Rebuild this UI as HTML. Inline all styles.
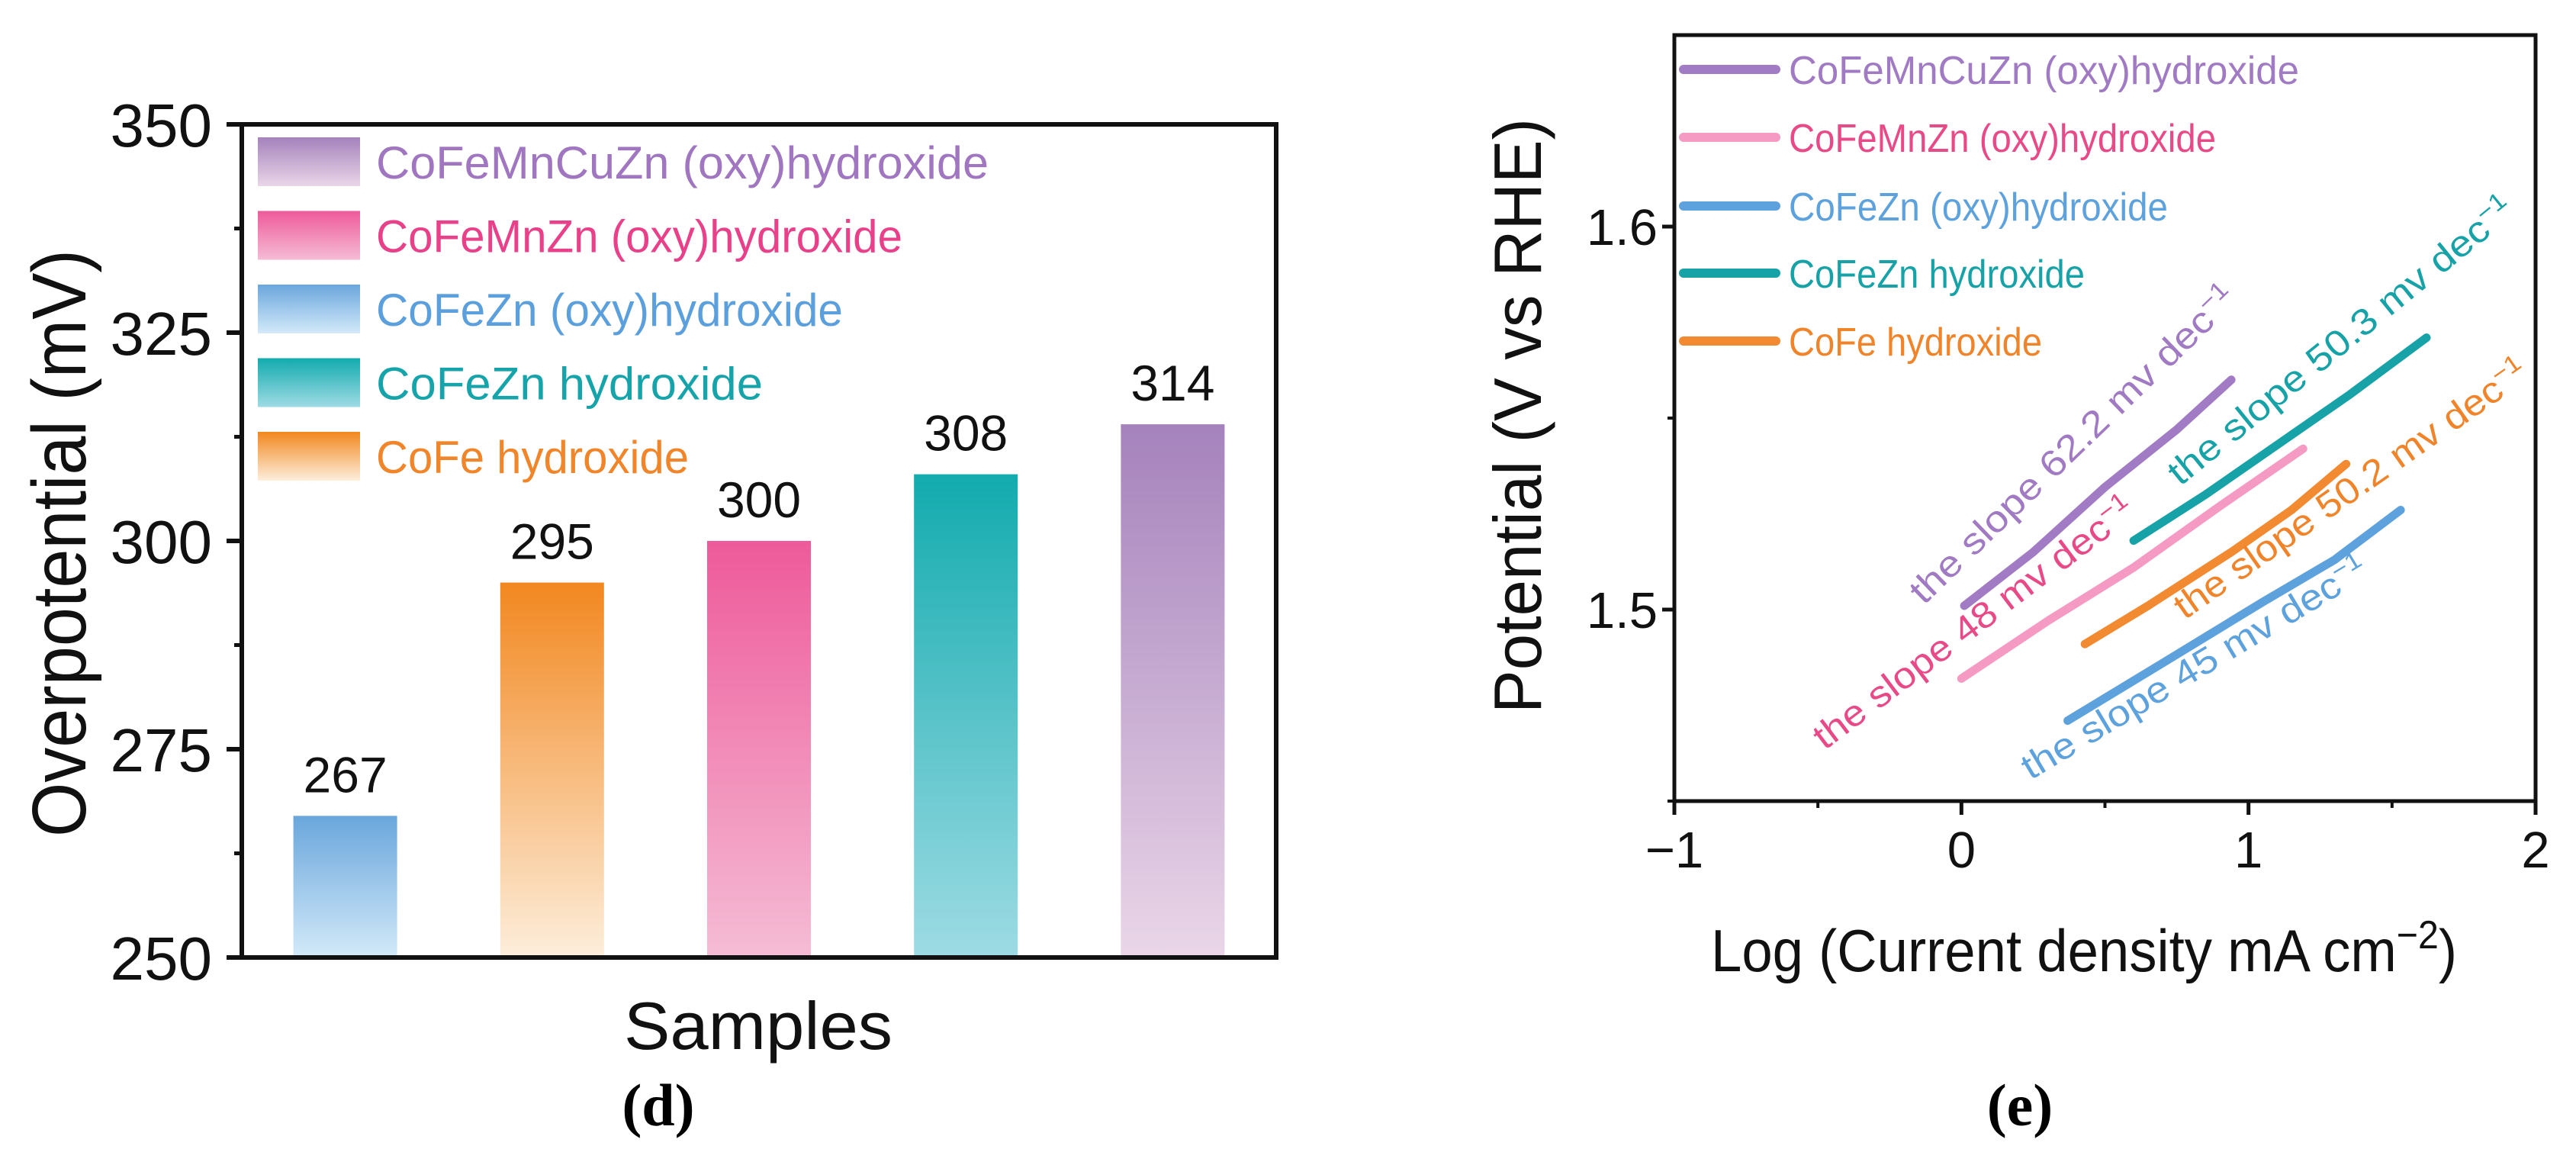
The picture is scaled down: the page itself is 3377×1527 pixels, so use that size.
<!DOCTYPE html>
<html><head><meta charset="utf-8"><style>
html,body{margin:0;padding:0;background:#fff;}
svg{display:block;font-family:"Liberation Sans",sans-serif;}
</style></head><body>
<svg id="fig" width="3377" height="1527" viewBox="0 0 3377 1527" xmlns="http://www.w3.org/2000/svg">
<defs>
<linearGradient id="g0" x1="0" y1="0" x2="0" y2="1"><stop offset="0" stop-color="#6aa6dc"/><stop offset="1" stop-color="#d3eaf9"/></linearGradient>
<linearGradient id="g1" x1="0" y1="0" x2="0" y2="1"><stop offset="0" stop-color="#f2871f"/><stop offset="1" stop-color="#fdeedb"/></linearGradient>
<linearGradient id="g2" x1="0" y1="0" x2="0" y2="1"><stop offset="0" stop-color="#ee5a9a"/><stop offset="1" stop-color="#f5bcd5"/></linearGradient>
<linearGradient id="g3" x1="0" y1="0" x2="0" y2="1"><stop offset="0" stop-color="#12abae"/><stop offset="1" stop-color="#9edbe4"/></linearGradient>
<linearGradient id="g4" x1="0" y1="0" x2="0" y2="1"><stop offset="0" stop-color="#a582bc"/><stop offset="1" stop-color="#ead6e8"/></linearGradient>
</defs>
<g id="chartD"></g>
<g id="chartE"></g>
<text x="863" y="1475" text-anchor="middle" font-family="Liberation Serif, serif" font-weight="bold" font-size="78">(d)</text>
<text x="2648" y="1475" text-anchor="middle" font-family="Liberation Serif, serif" font-weight="bold" font-size="78">(e)</text>
</svg>
<script>
// ---- Chart (d) data ----
const barCategories = ["CoFeZn (oxy)hydroxide","CoFe hydroxide","CoFeMnZn (oxy)hydroxide","CoFeZn hydroxide","CoFeMnCuZn (oxy)hydroxide"];
const barValues = [267, 295, 300, 308, 314];
const barYTicks = [250, 275, 300, 325, 350];
const barLegendLabels = ["CoFeMnCuZn (oxy)hydroxide","CoFeMnZn (oxy)hydroxide","CoFeZn (oxy)hydroxide","CoFeZn hydroxide","CoFe hydroxide"];
// ---- Chart (e) data ----
const tafelSeriesNames = ["CoFeMnCuZn (oxy)hydroxide","CoFeMnZn (oxy)hydroxide","CoFeZn (oxy)hydroxide","CoFeZn hydroxide","CoFe hydroxide"];
const tafelX_CoFeMnCuZn = [0.01, 0.25, 0.5, 0.75, 0.94];
const tafelY_CoFeMnCuZn = [1.501, 1.515, 1.532, 1.547, 1.560];
const tafelX_CoFeMnZn = [0.0, 0.3, 0.6, 0.9, 1.19];
const tafelY_CoFeMnZn = [1.482, 1.497, 1.511, 1.527, 1.542];
const tafelX_CoFeZnOxy = [0.37, 0.7, 1.05, 1.3, 1.53];
const tafelY_CoFeZnOxy = [1.471, 1.486, 1.502, 1.513, 1.526];
const tafelX_CoFeZn = [0.6, 0.85, 1.1, 1.35, 1.62];
const tafelY_CoFeZn = [1.518, 1.530, 1.543, 1.556, 1.571];
const tafelX_CoFe = [0.43, 0.65, 0.94, 1.15, 1.34];
const tafelY_CoFe = [1.491, 1.501, 1.515, 1.526, 1.538];
const tafelXTicks = [-1, 0, 1, 2];
const tafelYTicks = [1.5, 1.6];
const slopeLabels = ["the slope 62.2 mv dec","the slope 48 mv dec","the slope 45 mv dec","the slope 50.3 mv dec","the slope 50.2 mv dec"];

const NS = "http://www.w3.org/2000/svg";
function mk(parent, tag, attrs, text){
  const e = document.createElementNS(NS, tag);
  for (const k in attrs) e.setAttribute(k, attrs[k]);
  if (text !== undefined) e.textContent = text;
  parent.appendChild(e); return e;
}

// ===== Chart D =====
(function(){
  const g = document.getElementById('chartD');
  const L=317,R=1673,T=163,B=1255;
  const ymin=250,ymax=350;
  const yS = v => B - (v-ymin)/(ymax-ymin)*(B-T);
  const band = (R-L)/barCategories.length;
  const xC = i => L + band*(i+0.5);
  const grads=["g0","g1","g2","g3","g4"];
  barValues.forEach((v,i)=>{
    const r = mk(g,'rect',{x:xC(i)-68,y:yS(v),width:136,height:B-yS(v),fill:`url(#${grads[i]})`});
    
    
    const t = mk(g,'text',{x:xC(i),y:yS(v)-31,'text-anchor':'middle','font-size':66,fill:'#111'},String(v));
    
    
  });
  const fr = mk(g,'rect',{x:L,y:T,width:R-L,height:B-T,fill:'none',stroke:'#111','stroke-width':6});
  
  
  barYTicks.forEach((v,i)=>{
    mk(g,'line',{x1:L-20,x2:L,y1:yS(v),y2:yS(v),stroke:'#111','stroke-width':6});
    const t = mk(g,'text',{x:278,y:yS(v)+29,'text-anchor':'end','font-size':80,fill:'#111'},String(v));
    
    
    if(i<barYTicks.length-1){ const m=(v+barYTicks[i+1])/2;
      mk(g,'line',{x1:L-10,x2:L,y1:yS(m),y2:yS(m),stroke:'#111','stroke-width':5}); }
  });
  const yt = mk(g,'text',{x:0,y:0,transform:'translate(112,712) rotate(-90)','text-anchor':'middle','font-size':100,fill:'#111',textLength:770,lengthAdjust:'spacingAndGlyphs'},'Overpotential (mV)');
  
  
  const xt = mk(g,'text',{x:994,y:1375,'text-anchor':'middle','font-size':88,fill:'#111',textLength:352,lengthAdjust:'spacingAndGlyphs'},'Samples');
  
  
  const legCols=["#9f76bf","#e8418a","#5b9fdc","#16a4aa","#f0852a"];
  const legGr=["g4","g2","g0","g3","g1"];
  const legW=[803,690,612,507,410];
  barLegendLabels.forEach((lab,i)=>{
    const y0 = 180 + i*96.5;
    const s = mk(g,'rect',{x:338,y:y0,width:134,height:64,fill:`url(#${legGr[i]})`});
    
    
    const t = mk(g,'text',{x:493,y:y0+54,'font-size':60,fill:legCols[i],textLength:legW[i],lengthAdjust:'spacingAndGlyphs'},lab);
    
    
  });
})();

// ===== Chart E =====
(function(){
  const g = document.getElementById('chartE');
  const L=2195,R=3324,T=46,B=1050;
  const xmin=-1,xmax=2,ymin=1.45,ymax=1.65;
  const xS = v => L + (v-xmin)/(xmax-xmin)*(R-L);
  const yS = v => B - (v-ymin)/(ymax-ymin)*(B-T);
  const cols=["#a17bc4","#f59ac2","#5ea2dd","#17a2a7","#f28a32"];
  const textCols=["#a07ac2","#e84a88","#5ea2dd","#17a2a7","#f0842a"];
  const xs=[tafelX_CoFeMnCuZn,tafelX_CoFeMnZn,tafelX_CoFeZnOxy,tafelX_CoFeZn,tafelX_CoFe];
  const ys=[tafelY_CoFeMnCuZn,tafelY_CoFeMnZn,tafelY_CoFeZnOxy,tafelY_CoFeZn,tafelY_CoFe];
  xs.forEach((arr,i)=>{
    const d = arr.map((x,j)=>(j?'L':'M')+xS(x).toFixed(1)+','+yS(ys[i][j]).toFixed(1)).join(' ');
    const p = mk(g,'path',{d:d,fill:'none',stroke:cols[i],'stroke-width':11,'stroke-linecap':'round','stroke-linejoin':'round'});
    
    
  });
  const fr = mk(g,'rect',{x:L,y:T,width:R-L,height:B-T,fill:'none',stroke:'#111','stroke-width':5});
  
  
  tafelXTicks.forEach((v,i)=>{
    mk(g,'line',{x1:xS(v),x2:xS(v),y1:B,y2:B+18,stroke:'#111','stroke-width':5});
    const t = mk(g,'text',{x:xS(v),y:1137,'text-anchor':'middle','font-size':67,fill:'#111'},v<0?'\u2212'+Math.abs(v):String(v));
    
    
    if(i<tafelXTicks.length-1){const m=v+0.5; mk(g,'line',{x1:xS(m),x2:xS(m),y1:B,y2:B+9,stroke:'#111','stroke-width':4});}
  });
  [1.45,1.55].forEach(m=>mk(g,'line',{x1:L-9,x2:L,y1:yS(m),y2:yS(m),stroke:'#111','stroke-width':4}));
  tafelYTicks.forEach(v=>{
    mk(g,'line',{x1:L-16,x2:L,y1:yS(v),y2:yS(v),stroke:'#111','stroke-width':5});
    const t = mk(g,'text',{x:2173,y:yS(v)+24,'text-anchor':'end','font-size':67,fill:'#111'},v.toFixed(1));
    
    
  });
  const yt = mk(g,'text',{x:0,y:0,transform:'translate(2020,545) rotate(-90)','text-anchor':'middle','font-size':88,fill:'#111',textLength:780,lengthAdjust:'spacingAndGlyphs'},'Potential (V vs RHE)');
  
  
  const xt = mk(g,'text',{x:2243,y:1273,'font-size':78,fill:'#111'});
  
  
  mk(xt,'tspan',{},'Log (Current density mA cm');
  mk(xt,'tspan',{dy:-30,'font-size':52},'\u22122');
  mk(xt,'tspan',{dy:30},')');
  xt.setAttribute('transform','translate(2243,0) scale(0.93,1) translate(-2243,0)');
  const legW=[669,560,497,388,332];
  tafelSeriesNames.forEach((lab,i)=>{
    const y0 = [91,180,270,358,447][i];
    const l = mk(g,'line',{x1:2207,x2:2328,y1:y0,y2:y0,stroke:cols[i],'stroke-width':12,'stroke-linecap':'round'});
    
    
    const t = mk(g,'text',{x:2345,y:y0+19,'font-size':52,fill:textCols[i],textLength:legW[i],lengthAdjust:'spacingAndGlyphs'},lab);
    
    
  });
  // slope annotations: [x,y,angle,length]
  const ann=[[2522,794,-44,575],[2392,984,-37,514],[2662,1023,-31,520],[2858,638,-39,568],[2864,813,-35,554]];
  slopeLabels.forEach((s,i)=>{
    const a=ann[i];
    const t = mk(g,'text',{x:0,y:0,transform:`translate(${a[0]},${a[1]}) rotate(${a[2]})`,'font-size':48,fill:textCols[i],textLength:a[3],lengthAdjust:'spacingAndGlyphs'});
    
    
    mk(t,'tspan',{},s);
    mk(t,'tspan',{dy:-18,'font-size':32},'\u22121');
  });
})();
</script>
</body></html>
